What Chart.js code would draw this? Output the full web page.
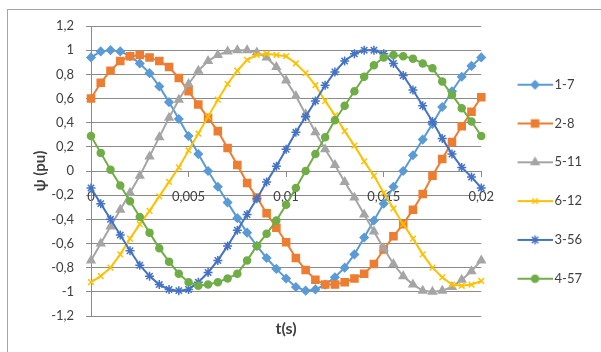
<!DOCTYPE html>
<html lang="en">
<head>
<meta charset="UTF-8">
<title>Flux linkage per coil group</title>
<script src="https://cdn.jsdelivr.net/npm/chart.js@4.4.0/dist/chart.umd.min.js"></script>
<style>
    body { margin: 0; background: #fff; overflow: hidden; }
    #frame { position: absolute; left: 7px; top: 9px; width: 660px; height: 420px; border: 1px solid #a6a6a6; }
    #chart { position: absolute; left: 0; top: 0; }
</style>
</head>
<body>
<div id="frame"></div>
<canvas id="chart" width="601" height="352"></canvas>

<script>
// time samples (s), one every 0.5 ms over one 50 Hz period
const times = [
    0, 0.0005, 0.001, 0.0015, 0.002, 0.0025, 0.003, 0.0035, 0.004, 0.0045,
    0.005, 0.0055, 0.006, 0.0065, 0.007, 0.0075, 0.008, 0.0085, 0.009, 0.0095,
    0.01, 0.0105, 0.011, 0.0115, 0.012, 0.0125, 0.013, 0.0135, 0.014, 0.0145,
    0.015, 0.0155, 0.016, 0.0165, 0.017, 0.0175, 0.018, 0.0185, 0.019, 0.0195, 0.02
];

const seriesNames = ['1-7', '2-8', '5-11', '6-12', '3-56', '4-57'];

// flux linkage, per unit
const psi17 = [
    0.94, 0.99, 1.0, 0.99, 0.95, 0.89, 0.81, 0.70, 0.57, 0.43,
    0.29, 0.14, 0.0, -0.13, -0.26, -0.39, -0.51, -0.62, -0.72, -0.81,
    -0.89, -0.96, -0.99, -0.98, -0.94, -0.88, -0.80, -0.69, -0.55, -0.41,
    -0.27, -0.13, 0.0, 0.13, 0.26, 0.39, 0.53, 0.66, 0.78, 0.87, 0.94
];
const psi28 = [
    0.60, 0.73, 0.83, 0.91, 0.95, 0.96, 0.94, 0.91, 0.86, 0.77,
    0.66, 0.55, 0.44, 0.33, 0.19, 0.05, -0.10, -0.22, -0.35, -0.47,
    -0.59, -0.72, -0.82, -0.90, -0.94, -0.94, -0.92, -0.89, -0.85, -0.77,
    -0.65, -0.54, -0.44, -0.32, -0.19, -0.04, 0.10, 0.24, 0.37, 0.49, 0.61
];
const psi511 = [
    -0.74, -0.60, -0.46, -0.32, -0.18, -0.04, 0.12, 0.28, 0.44, 0.59,
    0.72, 0.83, 0.91, 0.96, 0.99, 1.0, 1.0, 0.98, 0.94, 0.86,
    0.75, 0.62, 0.47, 0.32, 0.18, 0.05, -0.09, -0.22, -0.36, -0.50,
    -0.64, -0.77, -0.87, -0.94, -0.99, -1.0, -0.99, -0.96, -0.90, -0.83, -0.74
];
const psi612 = [
    -0.92, -0.87, -0.80, -0.69, -0.56, -0.44, -0.33, -0.21, -0.09, 0.03,
    0.17, 0.31, 0.45, 0.59, 0.72, 0.83, 0.92, 0.96, 0.97, 0.96,
    0.95, 0.89, 0.81, 0.71, 0.58, 0.46, 0.33, 0.21, 0.08, -0.04,
    -0.18, -0.31, -0.44, -0.56, -0.69, -0.80, -0.88, -0.94, -0.95, -0.94, -0.91
];
const psi356 = [
    -0.14, -0.27, -0.40, -0.53, -0.66, -0.78, -0.87, -0.94, -0.98, -0.99,
    -0.98, -0.92, -0.84, -0.74, -0.62, -0.49, -0.36, -0.23, -0.09, 0.04,
    0.18, 0.32, 0.45, 0.58, 0.71, 0.82, 0.91, 0.97, 1.0, 1.0,
    0.97, 0.89, 0.79, 0.67, 0.54, 0.41, 0.27, 0.14, 0.03, -0.05, -0.14
];
const psi457 = [
    0.29, 0.15, 0.01, -0.12, -0.25, -0.38, -0.51, -0.64, -0.75, -0.85,
    -0.92, -0.95, -0.94, -0.92, -0.89, -0.85, -0.74, -0.62, -0.52, -0.41,
    -0.28, -0.14, 0.0, 0.14, 0.28, 0.42, 0.54, 0.66, 0.78, 0.875,
    0.94, 0.96, 0.95, 0.93, 0.89, 0.85, 0.74, 0.63, 0.52, 0.41, 0.29
];

const xTickLabels = ['0', '0,005', '0,01', '0,015', '0,02'];
const yTickLabels = ['-1,2', '-1', '-0,8', '-0,6', '-0,4', '-0,2', '0', '0,2', '0,4', '0,6', '0,8', '1', '1,2'];

const values = [psi17, psi28, psi511, psi612, psi356, psi457];
const colors = ['#5B9BD5', '#ED7D31', '#A5A5A5', '#FFC000', '#4472C4', '#70AD47'];
const markers = [
    { pointStyle: 'rectRot', radius: 4 },
    { pointStyle: 'rect', radius: 5 },
    { pointStyle: 'triangle', radius: 4.5 },
    { pointStyle: 'crossRot', radius: 4 },
    { pointStyle: 'star', radius: 4.5 },
    { pointStyle: 'circle', radius: 3.5 }
];

const textColor = '#404040';
const gridColor = '#8a8a8a';
const font = 'Lato';

// small line + marker swatch for each legend entry
function legendIcon(color, marker) {
    const c = document.createElement('canvas');
    c.width = 50;
    c.height = 14;
    const ctx = c.getContext('2d');
    ctx.strokeStyle = color;
    ctx.fillStyle = color;
    ctx.lineWidth = 2;
    ctx.beginPath();
    ctx.moveTo(15, 7);
    ctx.lineTo(50, 7);
    ctx.stroke();
    ctx.lineWidth = 1.5;
    Chart.helpers.drawPoint(ctx, { pointStyle: marker.pointStyle, radius: marker.radius, borderWidth: 1.5 }, 32.5, 7);
    return c;
}
const icons = colors.map((c, i) => legendIcon(c, markers[i]));

// x axis sits on y = 0, so its title goes under the plot by hand
const xTitle = {
    id: 'xTitle',
    afterDraw(chart) {
        const { ctx, chartArea } = chart;
        ctx.save();
        ctx.font = 'bold 16px ' + font;
        ctx.fillStyle = textColor;
        ctx.textAlign = 'center';
        ctx.textBaseline = 'middle';
        ctx.fillText('t(s)', (chartArea.left + chartArea.right) / 2, chartArea.bottom + 13);
        ctx.restore();
    }
};

new Chart(document.getElementById('chart'), {
    type: 'line',
    data: {
        datasets: seriesNames.map((name, i) => ({
            label: name,
            data: times.map((t, k) => ({ x: t, y: values[i][k] })),
            borderColor: colors[i],
            backgroundColor: colors[i],
            borderWidth: 2,
            pointStyle: markers[i].pointStyle,
            pointRadius: markers[i].radius,
            pointBorderWidth: 1.5,
            tension: 0,
            clip: false,
            order: seriesNames.length - i
        }))
    },
    options: {
        responsive: false,
        animation: false,
        layout: { padding: { left: 27, right: 9, top: 26, bottom: 36 } },
        scales: {
            x: {
                type: 'linear',
                min: 0,
                max: 0.02,
                position: { y: 0 },
                ticks: {
                    stepSize: 0.005,
                    padding: 13,
                    maxRotation: 0,
                    autoSkip: false,
                    color: textColor,
                    font: { family: font, size: 13 },
                    callback: (v, i) => xTickLabels[i]
                },
                grid: { drawOnChartArea: false, tickLength: 5, color: gridColor },
                border: { color: gridColor }
            },
            y: {
                min: -1.2,
                max: 1.2,
                // fixed width: title, labels and tick marks share 64px
                afterFit: scale => { scale.width = 64; },
                ticks: {
                    stepSize: 0.2,
                    padding: 12,
                    color: textColor,
                    font: { family: font, size: 13 },
                    callback: (v, i) => yTickLabels[i]
                },
                grid: { color: gridColor, tickLength: 5 },
                border: { color: gridColor },
                title: {
                    display: true,
                    text: 'ψ (pu)',
                    color: textColor,
                    font: { family: font, size: 15, weight: 'bold' },
                    padding: { top: 4, bottom: 2 }
                }
            }
        },
        plugins: {
            tooltip: { enabled: false },
            legend: {
                position: 'right',
                align: 'start',
                title: { display: true, text: '', font: { size: 12 }, padding: { top: 0, bottom: 12 } },
                labels: {
                    usePointStyle: true,
                    pointStyleWidth: 41,
                    padding: 25.8,
                    color: textColor,
                    font: { family: font, size: 13 },
                    sort: (a, b) => a.datasetIndex - b.datasetIndex,
                    generateLabels: chart => Chart.defaults.plugins.legend.labels.generateLabels(chart)
                        .map(item => Object.assign(item, { pointStyle: icons[item.datasetIndex] }))
                }
            }
        }
    },
    plugins: [xTitle]
});
</script>
</body>
</html>
